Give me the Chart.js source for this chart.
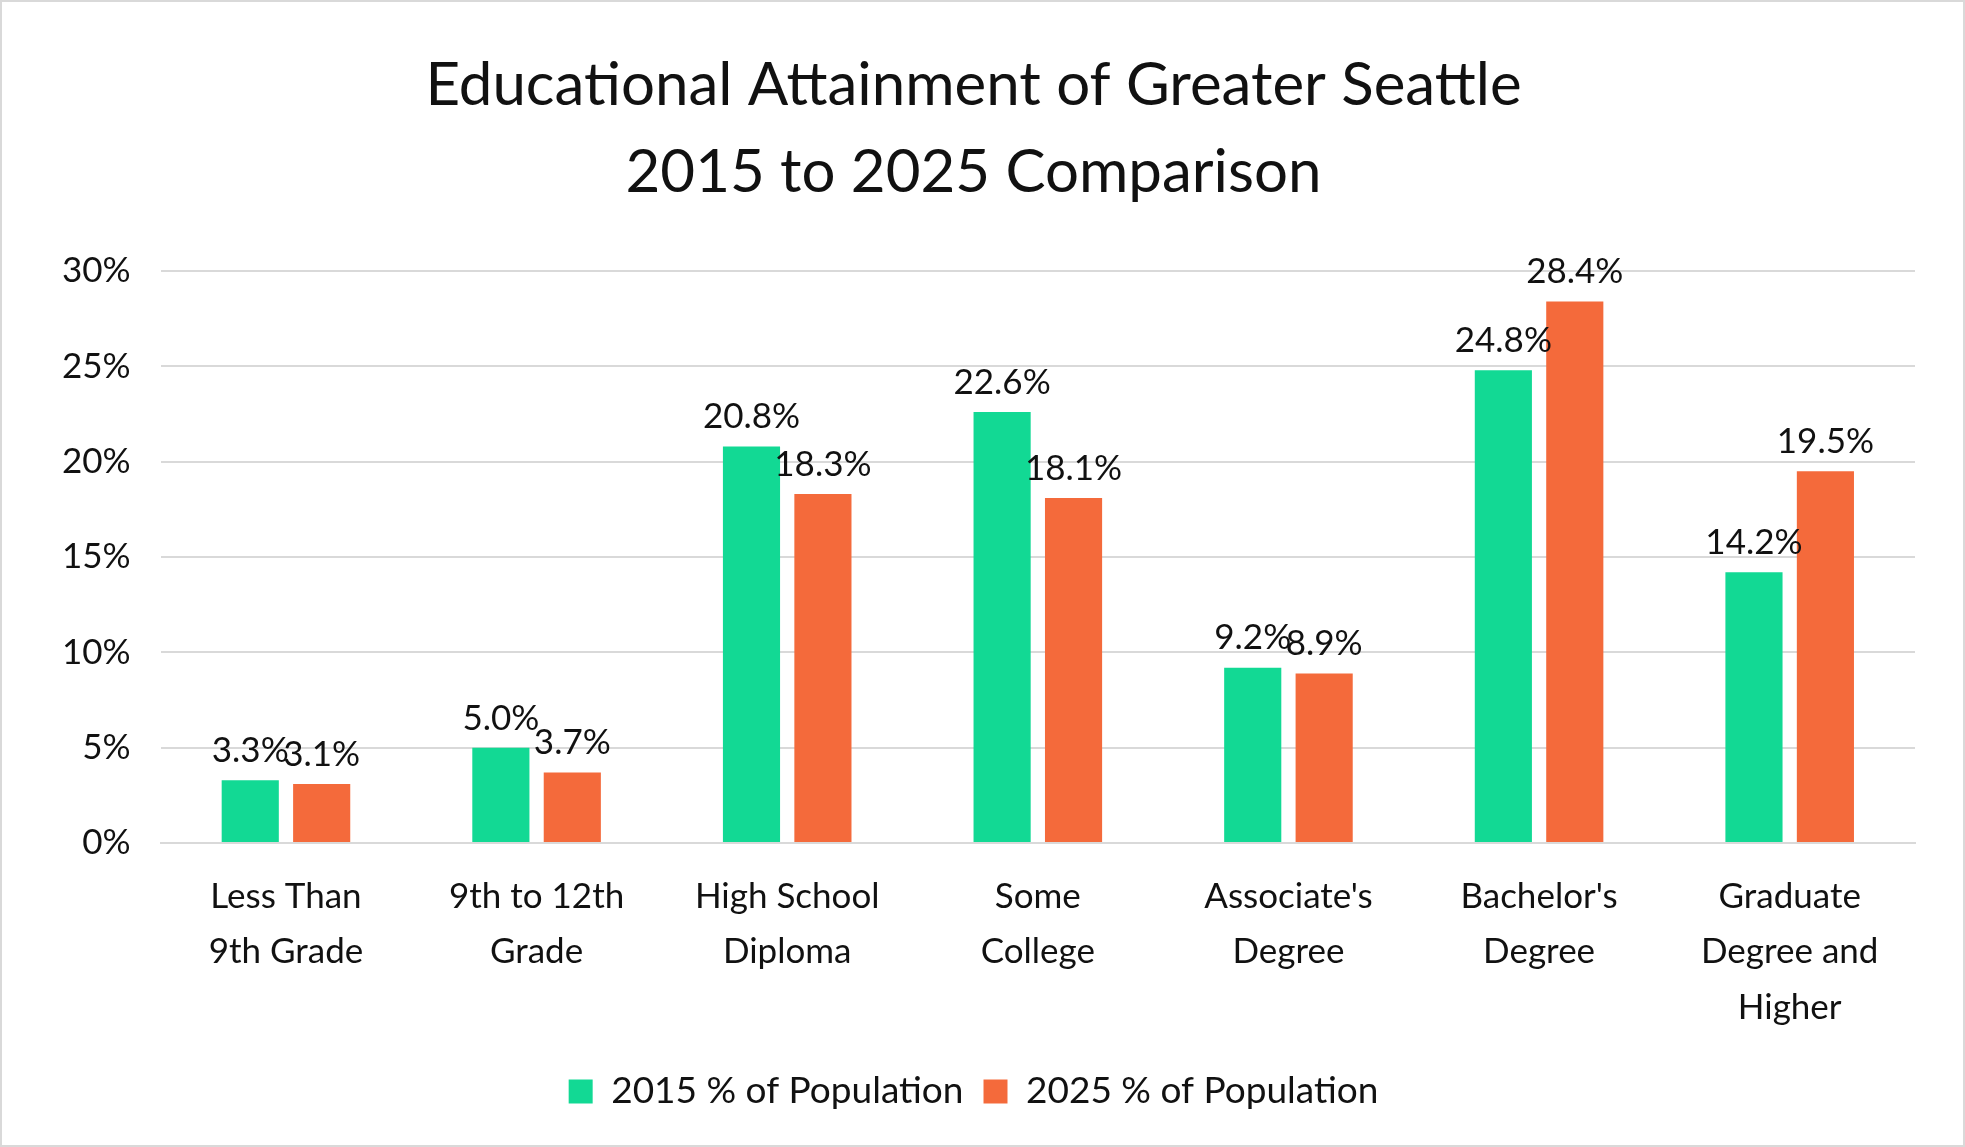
<!DOCTYPE html>
<html>
<head>
<meta charset="utf-8">
<script src="https://cdn.jsdelivr.net/npm/chart.js@4"></script>
<style>
  html, body { margin: 0; padding: 0; background: #fff; }
  #wrap { width: 1961px; height: 1143px; border: 2px solid #d9d9d9; }
</style>
</head>
<body>
<div id="wrap"><canvas id="chart" width="1961" height="1143"></canvas></div>
<script>
const categories = [
    ["Less Than", "9th Grade"],
    ["9th to 12th", "Grade"],
    ["High School", "Diploma"],
    ["Some", "College"],
    ["Associate's", "Degree"],
    ["Bachelor's", "Degree"],
    ["Graduate", "Degree and", "Higher"],
];
const values2015 = [3.3, 5.0, 20.8, 22.6, 9.2, 24.8, 14.2];
const values2025 = [3.1, 3.7, 18.3, 18.1, 8.9, 28.4, 19.5];
const seriesNames = ["2015 % of Population", "2025 % of Population"];
const titleLines = ["Educational Attainment of Greater Seattle", "2015 to 2025 Comparison"];

const FONT = "Lato, 'Noto Sans', sans-serif";
const TEXT = "#111";

// labels above each bar
const barLabels = {
    id: "barLabels",
    afterDatasetsDraw(chart) {
        const ctx = chart.ctx;
        ctx.save();
        ctx.font = `35px ${FONT}`;
        ctx.fillStyle = TEXT;
        ctx.textAlign = "center";
        ctx.textBaseline = "bottom";
        chart.data.datasets.forEach((ds, i) => {
            chart.getDatasetMeta(i).data.forEach((bar, j) => {
                ctx.fillText(ds.data[j].toFixed(1) + "%", bar.x, bar.y - 12);
            });
        });
        ctx.restore();
    },
};

new Chart(document.getElementById("chart").getContext("2d"), {
    type: "bar",
    data: {
        labels: categories,
        datasets: [
            { label: seriesNames[0], data: values2015, backgroundColor: "#12D994" },
            { label: seriesNames[1], data: values2025, backgroundColor: "#F46A3B" },
        ],
    },
    options: {
        responsive: false,
        animation: false,
        layout: { padding: { left: 30, right: 48, top: 30, bottom: 25 } },
        datasets: { bar: { categoryPercentage: 0.57, barPercentage: 0.8 } },
        scales: {
            y: {
                min: 0,
                max: 30,
                border: { display: false },
                grid: { color: "#d9d9d9", lineWidth: 2, drawTicks: false },
                ticks: {
                    stepSize: 5,
                    padding: 30,
                    color: TEXT,
                    font: { size: 35, family: FONT },
                    callback: (v) => v + "%",
                },
            },
            x: {
                border: { color: "#d9d9d9", width: 2 },
                grid: { display: false },
                ticks: { color: TEXT, padding: 18, maxRotation: 0, font: { size: 35, family: FONT, lineHeight: 1.58 } },
            },
        },
        plugins: {
            title: {
                display: true,
                text: titleLines,
                color: TEXT,
                font: { size: 60, family: FONT, weight: "normal", lineHeight: 1.45 },
                padding: { top: 10, bottom: 55 },
            },
            legend: {
                position: "bottom",
                labels: {
                    color: TEXT,
                    boxWidth: 24,
                    boxHeight: 24,
                    padding: 20,
                    font: { size: 37, family: FONT },
                },
            },
            tooltip: { enabled: false },
        },
    },
    plugins: [barLabels],
});
</script>
</body>
</html>
